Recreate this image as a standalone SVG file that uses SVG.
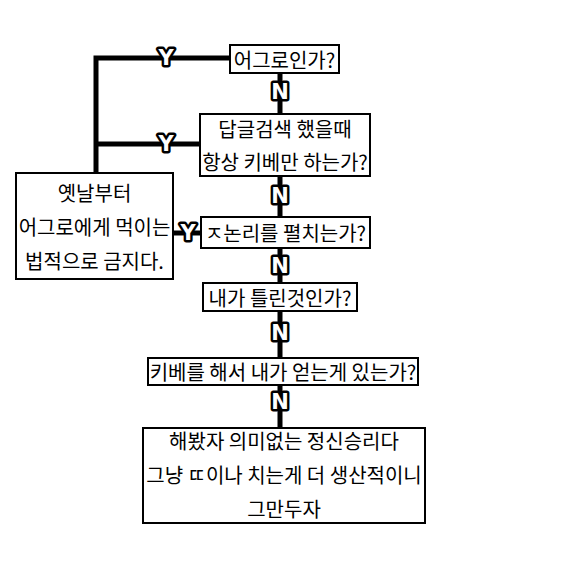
<svg xmlns="http://www.w3.org/2000/svg" width="567" height="566" viewBox="0 0 567 566">
<style>
.box{fill:#fff;stroke:#000;stroke-width:2}
.t{font-family:"Noto Sans CJK KR","Noto Sans",sans-serif;font-size:20px;fill:#000;text-anchor:middle;dominant-baseline:central}
.c{fill:none;stroke:#000;stroke-width:5}
.lb{font-family:"DejaVu Sans","Liberation Sans",sans-serif;font-weight:bold;font-size:21px;fill:#fff;stroke:#000;stroke-width:5;stroke-linejoin:round;paint-order:stroke;text-anchor:middle;dominant-baseline:central}
</style>
<rect width="567" height="566" fill="#fff"/>
<g id="connectors">
<path class="c" d="M280 73V428"/>
<path class="c" d="M230 58H96V173"/>
<path class="c" d="M200 144H96"/>
<path class="c" d="M173 233H201"/>
<text class="lb" x="166" y="58">Y</text>
<text class="lb" x="166" y="144">Y</text>
<text class="lb" x="188" y="233">Y</text>
<text class="lb" x="280" y="92">N</text>
<text class="lb" x="280" y="196">N</text>
<text class="lb" x="280" y="266">N</text>
<text class="lb" x="280" y="333">N</text>
<text class="lb" x="280" y="402">N</text>
</g>
<g id="n1"><rect class="box" x="230" y="45" width="109" height="28"/><text class="t" x="284.5" y="59">어그로인가?</text></g>
<g id="n2"><rect class="box" x="200" y="114" width="170" height="62"/><text class="t" x="285" y="128">답글검색 했을때</text><text class="t" x="285" y="161">항상 키베만 하는가?</text></g>
<g id="n3"><rect class="box" x="16" y="173" width="157" height="106"/><text class="t" x="94.5" y="192">옛날부터</text><text class="t" x="94.5" y="226">어그로에게 먹이는</text><text class="t" x="94.5" y="260">법적으로 금지다.</text></g>
<g id="n4"><rect class="box" x="201" y="217" width="169" height="31"/><text class="t" x="285.5" y="232">ㅈ논리를 펼치는가?</text></g>
<g id="n5"><rect class="box" x="203" y="283" width="154" height="28"/><text class="t" x="280" y="297">내가 틀린것인가?</text></g>
<g id="n6"><rect class="box" x="148" y="358" width="270" height="27"/><text class="t" x="283" y="371">키베를 해서 내가 얻는게 있는가?</text></g>
<g id="n7"><rect class="box" x="143" y="428" width="282" height="95"/><text class="t" x="284" y="440">해봤자 의미없는 정신승리다</text><text class="t" x="284" y="474">그냥 ㄸ이나 치는게 더 생산적이니</text><text class="t" x="284" y="508">그만두자</text></g>
</svg>
